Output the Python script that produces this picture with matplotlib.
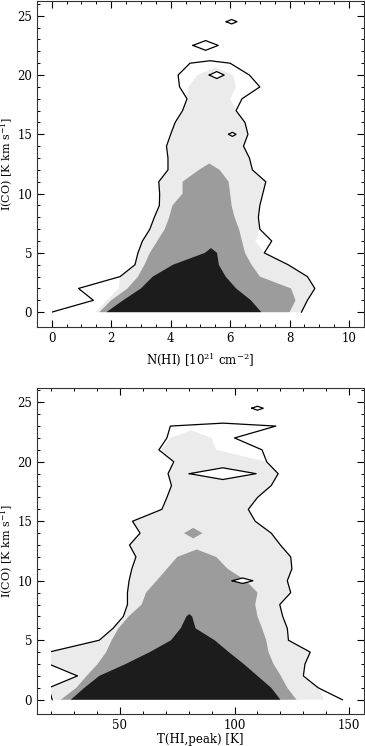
import numpy as np
import matplotlib.pyplot as plt
from matplotlib.patches import Rectangle

plt.rcParams['font.family'] = 'DejaVu Serif'
plt.rcParams['mathtext.fontset'] = 'dejavuserif'

nan = np.nan

# ---- upper panel: I(CO) vs N(HI) ----
# contour edges per I(CO) row: lo / hi of each level (outer line, light, mid, dark)
top_rows = [0, 1, 2, 3, 4, 5, 6, 7, 8, 9, 10, 11, 12, 13, 14, 15, 16, 17, 18, 19, 20, 21,
            21.3, 21.8, 22.5, 23.2, 24.0, 24.5, 25.0]
top_line_lo = [0.0, 1.4, 0.9, 2.3, 2.8, 2.9, 3.05, 3.3, 3.45, 3.62, 3.63, 3.6, 3.91, 3.91,
               3.86, 4.0, 4.15, 4.4, 4.55, 4.3, 4.25, 4.65,
               nan, nan, 4.75, nan, nan, 5.87, nan]
top_line_hi = [8.4, 8.6, 8.85, 8.6, 7.95, 7.15, 7.4, 7.0, 6.95, 7.0, 7.1, 7.2, 6.75, 6.65,
               6.45, 6.6, 6.5, 6.2, 6.4, 7.0, 6.65, 6.0,
               nan, nan, 5.6, nan, nan, 6.23, nan]
top_light_lo = [1.47, 1.85, 2.25, 2.3, 2.8, 2.9, 3.05, 3.3, 3.45, 3.62, 3.63, 3.6, 3.91,
                3.91, 3.86, 4.0, 4.15, 4.4, 4.55, 4.6, 4.9] + [nan] * 8
top_light_hi = [8.4, 8.6, 8.85, 8.6, 7.95, 7.15, 6.85, 7.0, 6.95, 7.0, 7.1, 7.2, 6.75,
                6.65, 6.45, 6.6, 6.5, 6.2, 6.0, 6.2, 6.1] + [nan] * 8
top_mid_lo = [1.6, 2.0, 2.55, 2.9, 3.12, 3.3, 3.55, 3.8, 3.95, 4.06, 4.4, 4.4, 4.95] + [nan] * 16
top_mid_hi = [8.0, 8.2, 8.05, 7.0, 6.72, 6.5, 6.4, 6.3, 6.15, 6.05, 6.0, 5.95, 5.65] + [nan] * 16
top_dark_lo = [1.84, 2.4, 3.0, 3.4, 4.08, 5.15] + [nan] * 23
top_dark_hi = [7.05, 6.7, 6.2, 5.85, 5.62, 5.56] + [nan] * 23
# empty pockets (outlined holes)
top_hole_lo = [nan] * 15 + [5.95] + [nan] * 4 + [5.3] + [nan] * 8
top_hole_hi = [nan] * 15 + [6.2] + [nan] * 4 + [5.8] + [nan] * 8

# ---- lower panel: I(CO) vs T(HI,peak) ----
bot_rows = [0, 1, 2, 3, 4, 5, 6, 7, 8, 9, 10, 11, 12, 13, 14, 15, 16, 17, 18, 19, 20, 21,
            22, 23, 23.3, 24.0, 24.5, 25.0]
bot_line_lo = [20.5, 19, 31.5, 19, 19, 41, 47, 51.5, 53.3, 53.3, 54, 55.2, 57, 54.2, 58.8,
               55.5, 68.3, 70.5, 72.5, 71, 73.5, 67, 70.5, 72, nan, nan, 107.5, nan]
bot_line_hi = [147, 136.5, 130, 130.7, 133, 123.5, 123, 121, 119.7, 124.5, 123, 125, 124.5,
               120, 116, 109, 106, 110, 116, 119, 114, 112, 100, 118, nan, nan, 112.5, nan]
bot_light_lo = [21.3, 19, 31.5, 19, 19, 41, 47, 51.5, 53.3, 53.3, 54, 55.2, 57, 54.2, 58.8,
                55.5, 68.3, 70.5, 72.5, 71, 73.5, 68, 72] + [nan] * 5
bot_light_hi = [139, 136.5, 130, 130.7, 133, 123.5, 123, 121, 119.7, 124.5, 123, 125, 124.5,
                120, 116, 109, 106, 110, 116, 119, 114, 92, 90] + [nan] * 5
bot_mid_lo = [24.2, 31, 35.5, 40.3, 44, 46.4, 49.4, 53.8, 59.5, 61.4, 66, 70.5, 75, nan, 78] + [nan] * 13
bot_mid_hi = [127, 123, 120.2, 117, 114.8, 113.8, 112, 110, 109, 110, 105, 97, 92, nan, 86] + [nan] * 13
bot_dark_lo = [28.6, 34.5, 41, 52.5, 63, 72.3, 76.5, 79] + [nan] * 20
bot_dark_hi = [120, 116, 110, 104, 97.5, 91.3, 83, 81.5] + [nan] * 20
bot_hole_lo = [nan] * 10 + [99] + [nan] * 8 + [80.3] + [nan] * 8
bot_hole_hi = [nan] * 10 + [108] + [nan] * 8 + [109.4] + [nan] * 8

fill_colors = ['#ebebeb', '#9c9c9c', '#1c1c1c']


def level_runs(lo):
    # contiguous blocks of rows where a level is present
    have = ~np.isnan(np.asarray(lo, float))
    out, i = [], 0
    while i < len(have):
        if have[i]:
            j = i
            while j + 1 < len(have) and have[j + 1]:
                j += 1
            out.append((i, j))
            i = j + 1
        else:
            i += 1
    return out


def outline(rows, lo, hi, gap, a, b):
    # edge polygon of one block; it closes to a point half-way to an empty row
    rows = np.asarray(rows, float)
    lo = np.asarray(lo, float)
    hi = np.asarray(hi, float)
    xs = list(lo[a:b + 1])
    ys = list(rows[a:b + 1])
    if b + 1 < len(rows):
        w = (hi[b] - lo[b]) / 2
        xs.append((hi[b] + lo[b]) / 2)
        ys.append(rows[b] + (rows[b + 1] - rows[b]) * w / (w + gap))
    xs += list(hi[a:b + 1][::-1])
    ys += list(rows[a:b + 1][::-1])
    if a > 0:
        w = (hi[a] - lo[a]) / 2
        xs.append((hi[a] + lo[a]) / 2)
        ys.append(rows[a] - (rows[a] - rows[a - 1]) * w / (w + gap))
        xs.append(xs[0])
        ys.append(ys[0])
    return xs, ys


def draw(ax, rows, line, fills, holes, gap, hole_gap, x0):
    clip = Rectangle((x0, -5), 1000, 100, transform=ax.transData)
    for (lo, hi), col in zip(fills, fill_colors):
        for a, b in level_runs(lo):
            xs, ys = outline(rows, lo, hi, gap, a, b)
            for p in ax.fill(xs, ys, color=col, lw=0):
                p.set_clip_path(clip)
    for a, b in level_runs(holes[0]):
        xs, ys = outline(rows, holes[0], holes[1], hole_gap, a, b)
        ax.fill(xs, ys, color='white', lw=0)
        ax.plot(xs, ys, color='black', lw=0.9)
    for a, b in level_runs(line[0]):
        xs, ys = outline(rows, line[0], line[1], gap, a, b)
        for ln in ax.plot(xs, ys, color='black', lw=0.9):
            ln.set_clip_path(clip)


def style(ax):
    ax.tick_params(which='both', direction='in', top=True, right=True, labelsize=8.5)
    ax.tick_params(which='major', length=5, width=0.8)
    ax.tick_params(which='minor', length=2.5, width=0.7)
    for s in ax.spines.values():
        s.set_linewidth(0.8)
        s.set_color('#333333')


fig = plt.figure(figsize=(3.65, 7.46), dpi=100)

ax1 = fig.add_axes([0.101, 0.5617, 0.896, 0.437])
draw(ax1, top_rows, (top_line_lo, top_line_hi),
     [(top_light_lo, top_light_hi), (top_mid_lo, top_mid_hi), (top_dark_lo, top_dark_hi)],
     (top_hole_lo, top_hole_hi), 0.3, 0.6, 0.0)
ax1.set_xlim(-0.5, 10.5)
ax1.set_ylim(-1.25, 26.25)
ax1.set_xticks(np.arange(0, 11, 2))
ax1.set_xticks(np.arange(0, 10.5, 0.5), minor=True)
ax1.set_yticks(np.arange(0, 26, 5))
ax1.set_yticks(np.arange(0, 27, 1), minor=True)
ax1.set_xlabel(r'N(HI) [10$^{21}$ cm$^{-2}$]', fontsize=8.5)
ax1.set_ylabel(r'I(CO) [K km s$^{-1}$]', fontsize=8)
ax1.xaxis.set_label_coords(0.5, -0.073)
ax1.yaxis.set_label_coords(-0.066, 0.5)
style(ax1)

ax2 = fig.add_axes([0.101, 0.0429, 0.896, 0.437])
draw(ax2, bot_rows, (bot_line_lo, bot_line_hi),
     [(bot_light_lo, bot_light_hi), (bot_mid_lo, bot_mid_hi), (bot_dark_lo, bot_dark_hi)],
     (bot_hole_lo, bot_hole_hi), 5, 15, 20.0)
ax2.set_xlim(13.8, 156.4)
ax2.set_ylim(-1.2, 26.2)
ax2.set_xticks([50, 100, 150])
ax2.set_xticks(np.arange(20, 160, 10), minor=True)
ax2.set_yticks(np.arange(0, 26, 5))
ax2.set_yticks(np.arange(0, 27, 1), minor=True)
ax2.set_xlabel('T(HI,peak) [K]', fontsize=8.5)
ax2.set_ylabel(r'I(CO) [K km s$^{-1}$]', fontsize=8)
ax2.xaxis.set_label_coords(0.5, -0.058)
ax2.yaxis.set_label_coords(-0.066, 0.5)
style(ax2)

fig.savefig('out.png', dpi=100)
